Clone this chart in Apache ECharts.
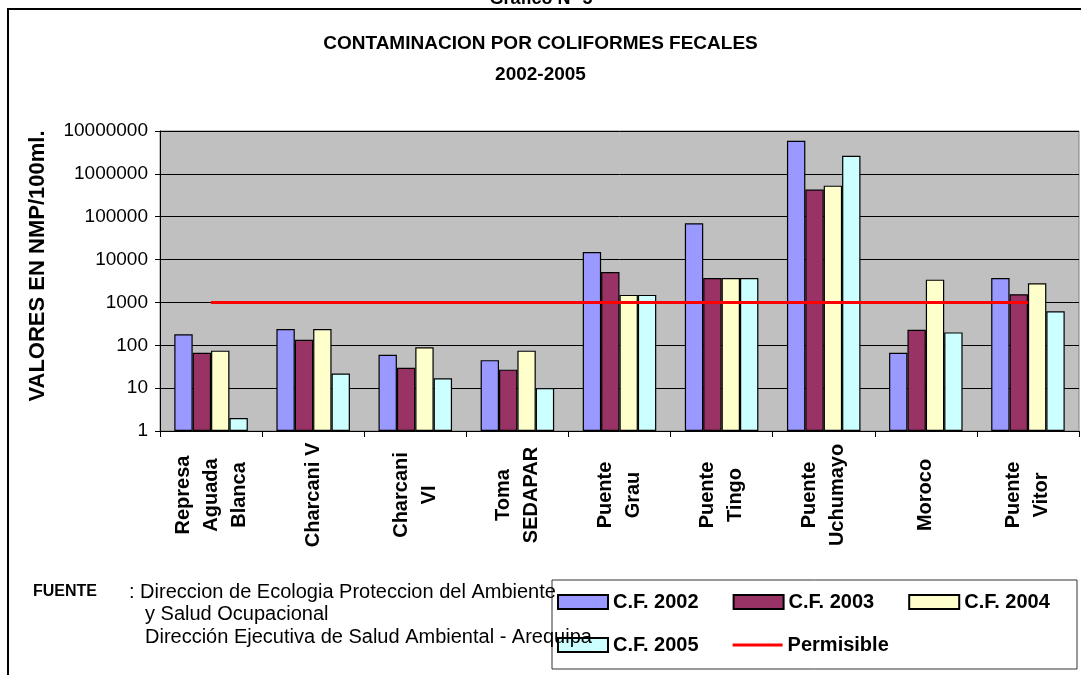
<!DOCTYPE html>
<html>
<head>
<meta charset="utf-8">
<script src="https://cdn.jsdelivr.net/npm/echarts@6/dist/echarts.min.js"></script>
<style>
html,body{margin:0;padding:0;background:#fff;}
#chart{width:1081px;height:675px;}
</style>
</head>
<body>
<div id="chart"></div>
<script>
var categories = ["Represa\nAguada\nBlanca", "Charcani V", "Charcani\nVI", "Toma\nSEDAPAR", "Puente\nGrau", "Puente\nTingo", "Puente\nUchumayo", "Moroco", "Puente\nVitor"];
var cf2002 = [180, 240, 60, 45, 15000, 70000, 5900000, 67, 3700];
var cf2003 = [67, 135, 30, 27, 5100, 3700, 430000, 230, 1550];
var cf2004 = [75, 240, 90, 75, 1500, 3700, 530000, 3400, 2800];
var cf2005 = [2, 22, 17, 10, 1500, 3700, 2650000, 200, 620];
var permisible = [1000, 1000, 1000, 1000, 1000, 1000, 1000, 1000, 1000];
var seriesNames = ["C.F. 2002", "C.F. 2003", "C.F. 2004", "C.F. 2005", "Permisible"];
var yTicks = ["1", "10", "100", "1000", "10000", "100000", "1000000", "10000000"];

var FONT = "Arial, 'Liberation Sans', sans-serif";
var chart = echarts.init(document.getElementById('chart'), null, {renderer: 'canvas'});

function bar(name, data, color) {
  return {
    name: name, type: 'bar', data: data,
    barGap: '0%', barCategoryGap: '28%',
    itemStyle: {color: color, borderColor: '#000', borderWidth: 1.2},
    emphasis: {disabled: true}
  };
}

var legendText = {fontFamily: FONT, fontWeight: 'bold', fontSize: 20, color: '#000', width: 90};
var linePath = 'path://M0,0 L50,0 L50,3 L0,3 Z';

function legendItems(names) {
  return names.map(function (n) {
    if (n === 'Permisible') {
      return {name: n, icon: linePath, itemStyle: {color: '#FF0000', borderWidth: 0}};
    }
    return {name: n, icon: 'rect'};
  });
}

chart.setOption({
  animation: false,
  backgroundColor: '#fff',
  title: {
    text: 'CONTAMINACION POR COLIFORMES FECALES',
    subtext: '2002-2005',
    left: 'center', top: 29, itemGap: 12,
    textStyle: {fontFamily: FONT, fontWeight: 'bold', fontSize: 19, color: '#000'},
    subtextStyle: {fontFamily: FONT, fontWeight: 'bold', fontSize: 19, color: '#000'}
  },
  grid: {
    left: 160, right: 2, top: 131, bottom: 244,
    show: true, backgroundColor: '#C0C0C0', borderColor: '#808080', borderWidth: 1
  },
  legend: [
    {
      data: legendItems(seriesNames.slice(0, 3)), left: 557, top: 592, padding: 0,
      itemWidth: 50, itemHeight: 14, itemGap: 34, textStyle: legendText, selectedMode: false
    },
    {
      data: legendItems(seriesNames.slice(3)), left: 557, top: 635, padding: 0,
      itemWidth: 50, itemHeight: 14, itemGap: 34, textStyle: legendText, selectedMode: false
    }
  ],
  xAxis: {
    type: 'category', data: categories,
    axisLine: {lineStyle: {color: '#000', width: 1}},
    axisTick: {show: true, length: 6, alignWithLabel: false, lineStyle: {color: '#000'}},
    axisLabel: {
      interval: 0, rotate: 90, margin: 64, align: 'center', verticalAlign: 'middle',
      fontFamily: FONT, fontWeight: 'bold', fontSize: 20, lineHeight: 28, color: '#000'
    },
    splitLine: {show: false}
  },
  yAxis: {
    type: 'log', logBase: 10, min: 1, max: 10000000,
    axisLine: {show: true, lineStyle: {color: '#000', width: 1}},
    axisTick: {show: true, length: 5, lineStyle: {color: '#000'}},
    axisLabel: {
      fontFamily: FONT, fontSize: 19, color: '#000', margin: 12,
      formatter: function (v) { var i = Math.round(Math.log10(v)); return yTicks[i] !== undefined ? yTicks[i] : String(Math.round(v)); }
    },
    splitLine: {show: true, lineStyle: {color: '#000', width: 1}},
    minorTick: {show: false}
  },
  graphic: [
    {type: 'rect', shape: {x: 8, y: 9, width: 1100, height: 700}, style: {fill: 'none', stroke: '#000', lineWidth: 2}, silent: true, z: -1},
    {type: 'text', x: 541, y: 8, style: {text: 'Grafico N° 5', font: 'bold 18px ' + FONT, fill: '#000', textAlign: 'center', textVerticalAlign: 'bottom'}},
    {type: 'text', x: 38, y: 266, rotation: Math.PI / 2, style: {text: 'VALORES EN NMP/100ml.', font: 'bold 22px ' + FONT, fill: '#000', textAlign: 'center', textVerticalAlign: 'middle'}},
    {type: 'rect', shape: {x: 552, y: 580, width: 525, height: 89}, style: {fill: 'none', stroke: '#333', lineWidth: 1}, silent: true},
    {type: 'text', x: 33, y: 592, style: {text: 'FUENTE', font: 'bold 16px ' + FONT, fill: '#000', textVerticalAlign: 'middle'}, z: 10},
    {type: 'text', x: 129, y: 592, style: {text: ': Direccion de Ecologia Proteccion del Ambiente', font: '20px ' + FONT, fill: '#000', textVerticalAlign: 'middle'}, z: 10},
    {type: 'text', x: 145, y: 614, style: {text: 'y Salud Ocupacional', font: '20px ' + FONT, fill: '#000', textVerticalAlign: 'middle'}, z: 10},
    {type: 'text', x: 145, y: 637, style: {text: 'Dirección Ejecutiva de Salud Ambiental - Arequipa', font: '20px ' + FONT, fill: '#000', textVerticalAlign: 'middle'}, z: 10}
  ],
  series: [
    bar(seriesNames[0], cf2002, '#9999FF'),
    bar(seriesNames[1], cf2003, '#993366'),
    bar(seriesNames[2], cf2004, '#FFFFCC'),
    bar(seriesNames[3], cf2005, '#CCFFFF'),
    {
      name: seriesNames[4], type: 'line', data: permisible,
      symbol: 'none', showSymbol: false,
      lineStyle: {color: '#FF0000', width: 3}, itemStyle: {color: '#FF0000'},
      emphasis: {disabled: true}, z: 5
    }
  ]
});
</script>
</body>
</html>
